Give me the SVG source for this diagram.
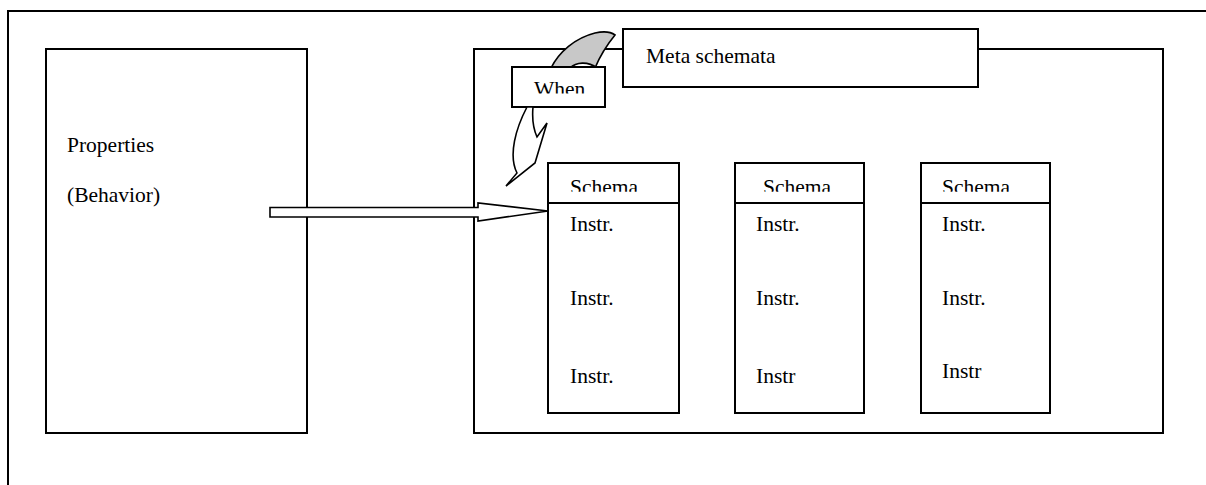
<svg xmlns="http://www.w3.org/2000/svg" width="1206" height="485" viewBox="0 0 1206 485">
  <style>
    .box { fill: #fff; stroke: #000; stroke-width: 2; }
    .line { fill: none; stroke: #000; stroke-width: 2; }
    .lbl { font-family: "Liberation Serif", "DejaVu Serif", serif; font-size: 21.5px; fill: #000; }
    .shape { stroke: #000; stroke-width: 1.6; stroke-linejoin: miter; }
  </style>
  <defs>
    <clipPath id="clipSchema"><rect x="0" y="0" width="1206" height="191.7"/></clipPath>
    <clipPath id="clipWhen"><rect x="0" y="0" width="1206" height="93.5"/></clipPath>
  </defs>

  <!-- page frame -->
  <path class="line" d="M8,485 V11 H1206"/>

  <!-- object: properties -->
  <g id="node-properties">
    <rect class="box" x="46" y="49" width="261" height="384"/>
    <text class="lbl" x="67" y="152">Properties</text>
    <text class="lbl" x="67" y="202">(Behavior)</text>
  </g>

  <!-- container of schemata -->
  <g id="node-container">
    <rect class="box" x="474" y="49" width="689" height="384"/>
  </g>

  <!-- curved "when" arrow, back face -->
  <g id="connector-when-back">
    <path class="shape" fill="#c8c8c8" d="M551,68 C559,52 575,38 595,33 C604,31 611,32 615,35 C606,46 600,56 595,68 Z"/>
    <path class="shape" fill="#fff" d="M570,68 C576,62 588,61 597,68 Z"/>
  </g>

  <g id="node-meta">
    <rect class="box" x="623" y="29" width="355" height="58"/>
    <text class="lbl" x="646" y="63">Meta schemata</text>
  </g>

  <g id="node-when">
    <rect class="box" x="512" y="67" width="93" height="40"/>
    <text class="lbl" x="534" y="96" clip-path="url(#clipWhen)">When</text>
  </g>

  <!-- schemata -->
  <g id="node-schema-1">
    <rect class="box" x="548" y="163" width="131" height="250"/>
    <line class="line" x1="548" y1="203" x2="679" y2="203"/>
    <text class="lbl" x="570" y="194" clip-path="url(#clipSchema)">Schema</text>
    <text class="lbl" x="570" y="231">Instr.</text>
    <text class="lbl" x="570" y="305">Instr.</text>
    <text class="lbl" x="570" y="383">Instr.</text>
  </g>
  <g id="node-schema-2">
    <rect class="box" x="735" y="163" width="129" height="250"/>
    <line class="line" x1="735" y1="203" x2="864" y2="203"/>
    <text class="lbl" x="763" y="194" clip-path="url(#clipSchema)">Schema</text>
    <text class="lbl" x="756" y="231">Instr.</text>
    <text class="lbl" x="756" y="305">Instr.</text>
    <text class="lbl" x="756" y="383">Instr</text>
  </g>
  <g id="node-schema-3">
    <rect class="box" x="921" y="163" width="129" height="250"/>
    <line class="line" x1="921" y1="203" x2="1050" y2="203"/>
    <text class="lbl" x="942" y="194" clip-path="url(#clipSchema)">Schema</text>
    <text class="lbl" x="942" y="231">Instr.</text>
    <text class="lbl" x="942" y="305">Instr.</text>
    <text class="lbl" x="942" y="378">Instr</text>
  </g>

  <!-- connectors -->
  <g id="connectors">
    <!-- curved "when" arrow, front face with head -->
    <path class="shape" fill="#fff" d="M527,107 C516,128 508,155 517,173 L506,186 L535,163 L547,123 L537,137 C533,128 532,118 533,107 Z"/>
    <!-- block arrow from properties into the schemata -->
    <path class="shape" fill="#fff" d="M270,207.5 H478 V203 L548,211 L478,221 V217 H270 Z"/>
  </g>
</svg>
